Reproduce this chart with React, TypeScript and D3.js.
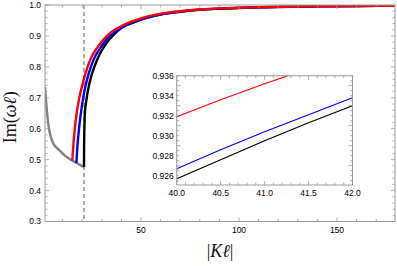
import * as React from 'react';
import * as d3 from 'd3';

// |K l| values and Im(omega l)
const grayK = [1, 1.5, 2, 2.7, 3.5, 5.2, 7, 8.7, 11, 12.7, 14.6, 17, 19, 20.9];
const grayV = [0.735, 0.695, 0.655, 0.615, 0.585, 0.553, 0.538, 0.528, 0.514, 0.506, 0.498, 0.49, 0.483, 0.476];

const redK = [14.9, 15.5, 16.2, 17, 18.5, 20.4, 22.9, 25, 27.2, 30, 32.3, 35, 38, 40, 40.5, 41, 41.5, 42, 45, 50, 60, 70, 80, 90, 100, 110, 120, 140, 160, 180];
const redV = [0.497, 0.55, 0.6, 0.643, 0.7, 0.75, 0.803, 0.835, 0.858, 0.882, 0.898, 0.913, 0.925, 0.9319, 0.9336, 0.9352, 0.9367, 0.9381, 0.946, 0.957, 0.972, 0.98, 0.9855, 0.989, 0.991, 0.9928, 0.994, 0.9958, 0.9968, 0.9976];

const blueK = [17, 17.5, 18.2, 19.2, 20.5, 22.1, 24.6, 26.7, 28.9, 31.5, 34, 37, 40, 40.5, 41, 41.5, 42, 45, 50, 60, 70, 80, 90, 100, 110, 120, 140, 160, 180];
const blueV = [0.489, 0.54, 0.59, 0.645, 0.7, 0.75, 0.804, 0.835, 0.858, 0.882, 0.899, 0.914, 0.9267, 0.9286, 0.9304, 0.9321, 0.9338, 0.942, 0.954, 0.97, 0.979, 0.985, 0.9885, 0.9908, 0.9925, 0.9938, 0.9956, 0.9967, 0.9975];

const blackK = [20.9, 20.95, 21.1, 21.3, 22.3, 23.8, 26.4, 28.3, 30.2, 33, 36, 38, 40, 40.5, 41, 41.5, 42, 45, 50, 60, 70, 80, 90, 100, 110, 120, 140, 160, 180];
const blackV = [0.476, 0.55, 0.6, 0.645, 0.7, 0.75, 0.804, 0.833, 0.856, 0.882, 0.903, 0.9155, 0.9257, 0.9276, 0.9295, 0.9313, 0.933, 0.9405, 0.953, 0.969, 0.978, 0.9845, 0.988, 0.9905, 0.9922, 0.9936, 0.9955, 0.9966, 0.9974];

const threshold = 20.9;

const mainYTicks = [0.3, 0.4, 0.5, 0.6, 0.7, 0.8, 0.9, 1.0];
const mainXTicks = [50, 100, 150];
const insetYTicks = [0.926, 0.928, 0.93, 0.932, 0.934, 0.936];
const insetXTicks = [40, 40.5, 41, 41.5, 42];

type Pt = [number, number];
const zip = (k: number[], v: number[]): Pt[] => k.map((kk, i) => [kk, v[i]] as Pt);

const frameColor = '#9a9a9a';
const labelFont = '"Liberation Sans", Arial, sans-serif';
const mathFont = '"Liberation Serif", "DejaVu Serif", serif';

function range(a: number, b: number, step: number) {
  const out: number[] = [];
  for (let i = 0; a + i * step <= b + 1e-9; i++) out.push(+(a + i * step).toFixed(6));
  return out;
}

export default function App() {
  const W = 397, H = 266;
  const m = { left: 45, right: 395, top: 5, bottom: 221.5 };
  const x = d3.scaleLinear().domain([1, 179.6]).range([m.left, m.right]);
  const y = d3.scaleLinear().domain([0.3, 1.0]).range([m.bottom, m.top]);

  const ins = { left: 176.7, right: 352.5, top: 75.7, bottom: 185 };
  const ix = d3.scaleLinear().domain([40, 42]).range([ins.left, ins.right]);
  const iy = d3.scaleLinear().domain([0.92507, 0.936]).range([ins.bottom, ins.top]);

  const line = d3.line<Pt>().x(d => x(d[0])).y(d => y(d[1])).curve(d3.curveMonotoneX);
  const iline = d3.line<Pt>().x(d => ix(d[0])).y(d => iy(d[1]));

  const series = [
    { k: blackK, v: blackV, c: '#000000' },
    { k: blueK, v: blueV, c: '#0000ff' },
    { k: redK, v: redV, c: '#ff0000' },
  ];

  const xMinor = range(10, 170, 10);
  const yMinor = range(0.3, 1.0, 0.02);
  const ixMinor = range(40, 42, 0.1);
  const iyMinor = range(0.9255, 0.936, 0.0005);

  return (
    <svg width={W} height={H} style={{ position: 'absolute', left: 0, top: 0, background: '#fff' }}>
      <defs>
        <clipPath id="mainClip">
          <rect x={m.left} y={m.top} width={m.right - m.left} height={m.bottom - m.top} />
        </clipPath>
        <clipPath id="insetClip">
          <rect x={ins.left} y={ins.top} width={ins.right - ins.left} height={ins.bottom - ins.top} />
        </clipPath>
      </defs>

      {/* dashed threshold line */}
      <line x1={x(threshold)} x2={x(threshold)} y1={m.top} y2={m.bottom}
        stroke="#808080" strokeWidth={1.3} strokeDasharray="4,3" />

      <g clipPath="url(#mainClip)">
        <path d={line(zip(grayK, grayV)) || ''} fill="none" stroke="#808080" strokeWidth={2.4} />
        {series.map((s, i) => (
          <path key={i} d={line(zip(s.k, s.v)) || ''} fill="none" stroke={s.c} strokeWidth={2.4} />
        ))}
      </g>

      {/* main frame */}
      <rect x={m.left} y={m.top} width={m.right - m.left} height={m.bottom - m.top}
        fill="none" stroke={frameColor} strokeWidth={1} />
      {xMinor.map(t => {
        const major = t % 50 === 0;
        const len = major ? 4 : 2.5;
        return (
          <g key={'xm' + t} stroke={frameColor} strokeWidth={0.8}>
            <line x1={x(t)} x2={x(t)} y1={m.bottom} y2={m.bottom - len} />
            <line x1={x(t)} x2={x(t)} y1={m.top} y2={m.top + len} />
          </g>
        );
      })}
      {yMinor.map(t => {
        const major = Math.abs(t * 10 - Math.round(t * 10)) < 1e-6;
        const len = major ? 4 : 2.5;
        return (
          <g key={'ym' + t} stroke={frameColor} strokeWidth={0.8}>
            <line x1={m.left} x2={m.left + len} y1={y(t)} y2={y(t)} />
            <line x1={m.right} x2={m.right - len} y1={y(t)} y2={y(t)} />
          </g>
        );
      })}
      {mainYTicks.map(t => (
        <text key={'yl' + t} x={m.left - 4} y={y(t)} dy="0.35em" textAnchor="end"
          fontFamily={labelFont} fontSize={8.5} fill="#000">{t.toFixed(1)}</text>
      ))}
      {mainXTicks.map(t => (
        <text key={'xl' + t} x={x(t)} y={m.bottom + 11} textAnchor="middle"
          fontFamily={labelFont} fontSize={8.5} fill="#000">{t}</text>
      ))}

      {/* axis titles */}
      <text x={(m.left + m.right) / 2} y={257} textAnchor="middle" fontFamily={mathFont} fontSize={18} fill="#111">
        |<tspan fontStyle="italic">K</tspan><tspan fontStyle="italic">ℓ</tspan>|
      </text>
      <text transform={`translate(16, ${(m.top + m.bottom) / 2 + 4}) rotate(-90)`} textAnchor="middle"
        fontFamily={mathFont} fontSize={18} fill="#111">
        Im(<tspan fontStyle="italic">ω</tspan><tspan fontStyle="italic">ℓ</tspan>)
      </text>

      {/* inset */}
      <rect x={ins.left} y={ins.top} width={ins.right - ins.left} height={ins.bottom - ins.top} fill="#fff" />
      <g clipPath="url(#insetClip)">
        {series.map((s, i) => (
          <path key={i} d={iline(zip(s.k, s.v).filter(d => d[0] >= 40 && d[0] <= 42.5)) || ''}
            fill="none" stroke={s.c} strokeWidth={1.2} />
        ))}
      </g>
      <rect x={ins.left} y={ins.top} width={ins.right - ins.left} height={ins.bottom - ins.top}
        fill="none" stroke={frameColor} strokeWidth={1} />
      {ixMinor.map((t, i) => {
        const len = i % 5 === 0 ? 4 : 2.5;
        return (
          <g key={'ixm' + t} stroke={frameColor} strokeWidth={0.8}>
            <line x1={ix(t)} x2={ix(t)} y1={ins.bottom} y2={ins.bottom - len} />
            <line x1={ix(t)} x2={ix(t)} y1={ins.top} y2={ins.top + len} />
          </g>
        );
      })}
      {iyMinor.map((t, i) => {
        const len = (i + 1) % 4 === 0 ? 4 : 2.5;
        return (
          <g key={'iym' + t} stroke={frameColor} strokeWidth={0.8}>
            <line x1={ins.left} x2={ins.left + len} y1={iy(t)} y2={iy(t)} />
            <line x1={ins.right} x2={ins.right - len} y1={iy(t)} y2={iy(t)} />
          </g>
        );
      })}
      {insetYTicks.map(t => (
        <text key={'iyl' + t} x={ins.left - 3} y={iy(t)} dy="0.35em" textAnchor="end"
          fontFamily={labelFont} fontSize={8.5} fill="#000">{t.toFixed(3)}</text>
      ))}
      {insetXTicks.map(t => (
        <text key={'ixl' + t} x={ix(t)} y={ins.bottom + 11} textAnchor="middle"
          fontFamily={labelFont} fontSize={8.5} fill="#000">{t.toFixed(1)}</text>
      ))}
    </svg>
  );
}
